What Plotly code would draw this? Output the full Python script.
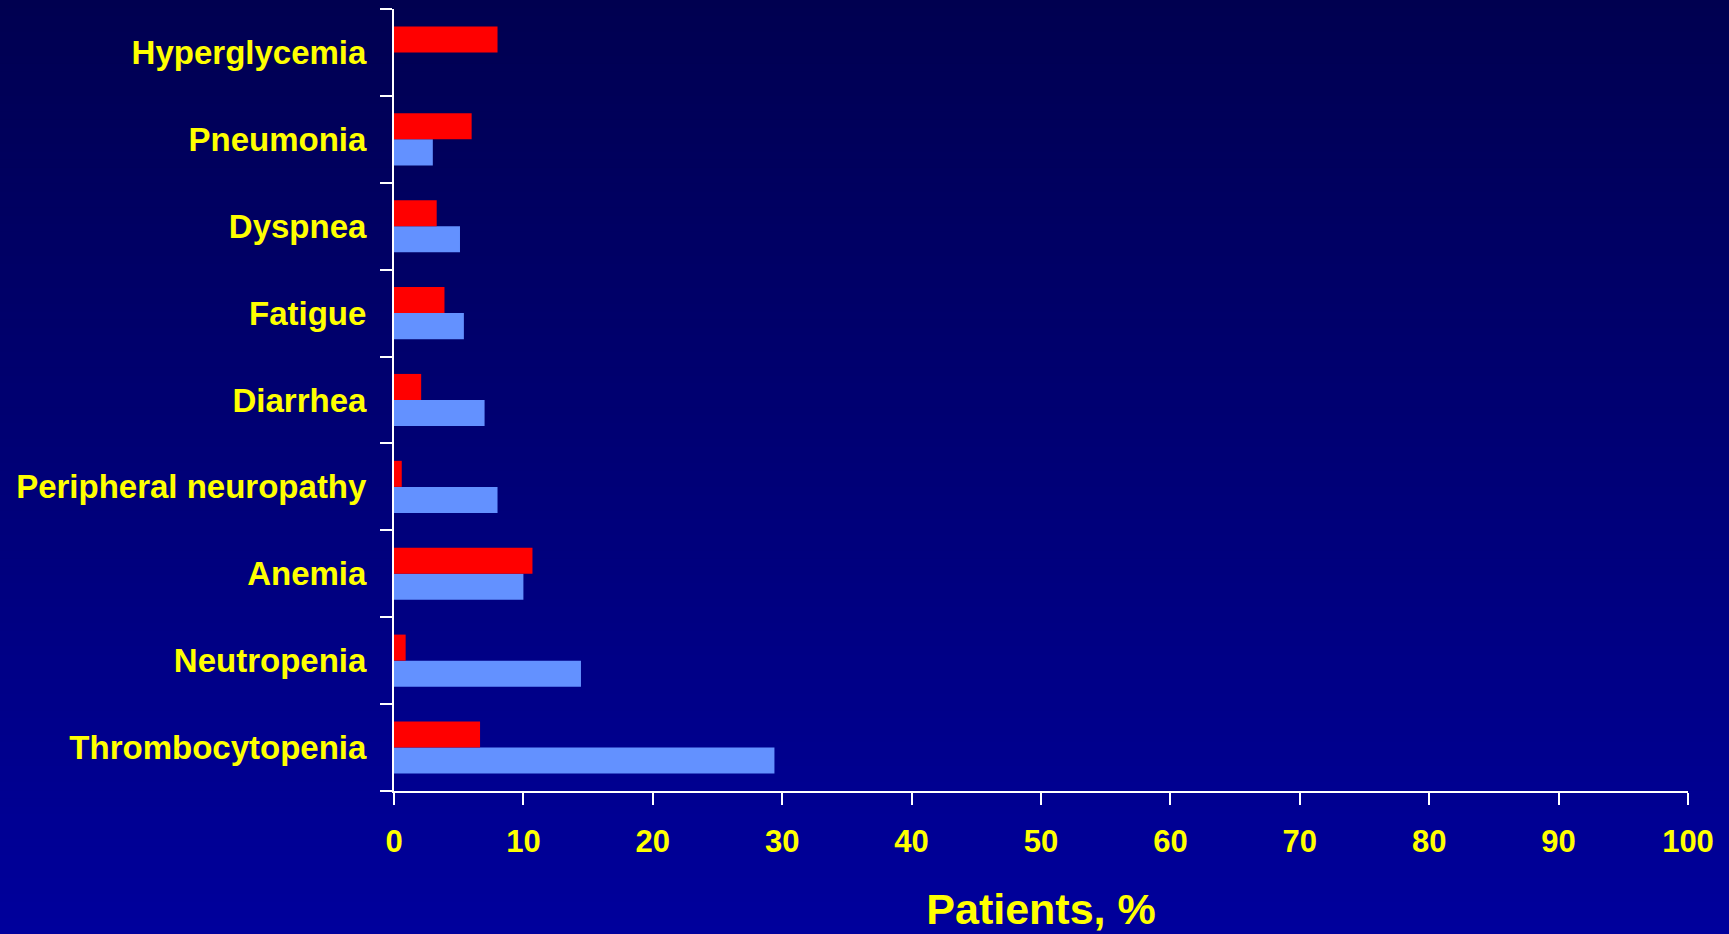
import plotly.graph_objects as go

# Adverse events, listed bottom to top
categories = [
    "Thrombocytopenia",
    "Neutropenia",
    "Anemia",
    "Peripheral neuropathy",
    "Diarrhea",
    "Fatigue",
    "Dyspnea",
    "Pneumonia",
    "Hyperglycemia",
]
blue_values = [29.4, 14.45, 10.0, 8.0, 7.0, 5.4, 5.1, 3.0, 0]
red_values = [6.65, 0.9, 10.7, 0.6, 2.1, 3.9, 3.3, 6.0, 8.0]
x_ticks = [0, 10, 20, 30, 40, 50, 60, 70, 80, 90, 100]

W, H = 1729, 934
ML, MR, MT, MB = 394, 41, 9, 143

YELLOW = "#FFFF00"
FONT = "Liberation Sans, Arial, sans-serif"

fig = go.Figure()
fig.add_trace(go.Bar(
    y=categories, x=blue_values, orientation="h",
    marker=dict(color="#6391FF", line=dict(width=0)),
    name="Blue",
))
fig.add_trace(go.Bar(
    y=categories, x=red_values, orientation="h",
    marker=dict(color="#FF0000", line=dict(width=0)),
    name="Red",
))

# vertical gradient background built from thin horizontal bands
pw = W - ML - MR
ph = H - MT - MB
x0p = -ML / pw
x1p = 1 + MR / pw
n_bands = 117
shapes = []
top_c, bot_c = 80, 156
for i in range(n_bands):
    f0 = i / n_bands
    f1 = (i + 1) / n_bands
    py0 = f0 * H
    py1 = f1 * H + 1
    yp_top = 1 + MT / ph - py0 / ph
    yp_bot = 1 + MT / ph - py1 / ph
    b = round(top_c + (bot_c - top_c) * (f0 + f1) / 2)
    shapes.append(dict(
        type="rect", xref="paper", yref="paper",
        x0=x0p, x1=x1p, y0=yp_bot, y1=yp_top,
        fillcolor=f"rgb(0,0,{b})", line=dict(width=0), layer="below",
    ))

fig.update_layout(
    width=W, height=H,
    margin=dict(l=ML, r=MR, t=MT, b=MB, pad=0),
    paper_bgcolor="rgb(0,0,118)",
    plot_bgcolor="rgba(0,0,0,0)",
    barmode="group",
    bargap=0.4,
    bargroupgap=0,
    showlegend=False,
    shapes=shapes,
    font=dict(family=FONT, color=YELLOW),
)

fig.update_xaxes(
    range=[0, 100],
    tickvals=x_ticks,
    ticktext=[str(v) for v in x_ticks],
    showgrid=False, zeroline=False,
    showline=True, linecolor="white", linewidth=2,
    ticks="outside", ticklen=12, tickwidth=2, tickcolor="white",
    tickfont=dict(family=FONT, size=31, color=YELLOW, weight="bold"),
    ticklabelstandoff=10,
    title=dict(text="Patients, %", standoff=36,
               font=dict(family=FONT, size=43, color=YELLOW, weight="bold")),
)
fig.update_yaxes(
    type="category",
    categoryorder="array", categoryarray=categories,
    range=[-0.5, len(categories) - 0.5],
    tickson="boundaries",
    showgrid=False, zeroline=False,
    showline=True, linecolor="white", linewidth=2,
    ticks="outside", ticklen=12, tickwidth=2, tickcolor="white",
    tickfont=dict(family=FONT, size=33, color=YELLOW, weight="bold"),
    ticklabelstandoff=19,
)

fig.write_html("out.html")
